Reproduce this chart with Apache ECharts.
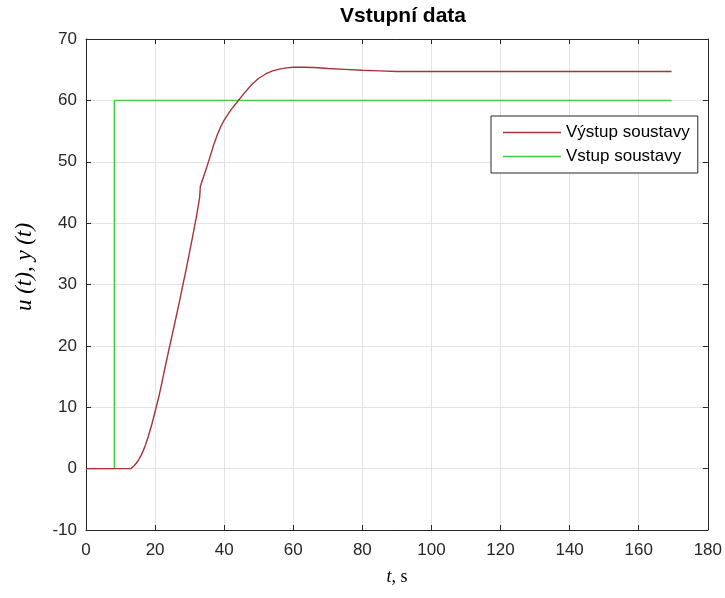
<!DOCTYPE html>
<html>
<head>
<meta charset="utf-8">
<script src="https://cdn.jsdelivr.net/npm/echarts@6/dist/echarts.min.js"></script>
<style>
    html, body { margin: 0; padding: 0; background: #fff; }
    #chart { width: 725px; height: 598px; }
</style>
</head>
<body>
<div id="chart"></div>
<script>
/* Vstupní data: odezva soustavy na skok */

// výstup soustavy y(t)
const tOut = [0, 13, 14, 15, 16, 17, 18, 19, 20, 21, 22, 23, 24, 25, 26, 27, 28, 29, 30, 31, 32, 32.9, 33.1, 34, 35, 36, 37, 38, 39, 40, 42, 44, 46, 48, 50, 52, 54, 56, 58, 60, 63, 66, 70, 75, 80, 85, 90, 100, 120, 140, 169.5];
const yOut = [0, 0, 0.5, 1.2, 2.2, 3.5, 5.2, 7.1, 9.3, 11.5, 14.1, 16.8, 19.4, 21.9, 24.5, 27.1, 29.8, 32.5, 35.3, 38.2, 41.2, 44.2, 46.0, 47.5, 49.2, 51.0, 52.8, 54.4, 55.7, 56.8, 58.5, 59.9, 61.3, 62.6, 63.6, 64.3, 64.8, 65.1, 65.3, 65.4, 65.4, 65.35, 65.2, 65.05, 64.9, 64.8, 64.7, 64.7, 64.7, 64.7, 64.7];

// vstup soustavy u(t)
const tIn = [0, 8.2, 8.2, 169.5];
const uIn = [0, 0, 60, 60];

const xTicks = { min: 0, max: 180, interval: 20 };
const yTicks = { min: -10, max: 70, interval: 10 };

function pairs(xs, ys) {
    let out = [];
    for (let i = 0; i < xs.length; i++) {
        out.push([xs[i], ys[i]]);
    }
    return out;
}

const axisColor = '#262626';
const gridColor = '#e3e3e3';
const serif = 'Liberation Serif, Times New Roman, serif';
const tickFont = { fontFamily: 'Liberation Sans, Arial, sans-serif', fontSize: 17, color: axisColor };
const frameLine = { show: true, onZero: false, lineStyle: { color: axisColor, width: 1 } };
const frameTick = { show: true, inside: true, length: 5, lineStyle: { color: axisColor } };

let grid = { left: 86, right: 15, top: 39, bottom: 68 };

let xAxis = [{
    type: 'value',
    min: xTicks.min, max: xTicks.max, interval: xTicks.interval,
    name: '{i|t}{n|, s}',
    nameLocation: 'middle',
    nameGap: 38,
    nameTextStyle: {
        rich: {
            i: { fontFamily: serif, fontStyle: 'italic', fontSize: 18, color: '#000' },
            n: { fontFamily: serif, fontSize: 18, color: '#000' }
        }
    },
    axisLine: frameLine,
    axisTick: frameTick,
    axisLabel: Object.assign({ margin: 12 }, tickFont),
    splitLine: { show: true, lineStyle: { color: gridColor, width: 1 } }
}, {
    type: 'value', position: 'top',
    min: xTicks.min, max: xTicks.max, interval: xTicks.interval,
    axisLine: frameLine,
    axisTick: frameTick,
    axisLabel: { show: false },
    splitLine: { show: false }
}];

let yAxis = [{
    type: 'value',
    min: yTicks.min, max: yTicks.max, interval: yTicks.interval,
    axisLine: frameLine,
    axisTick: frameTick,
    axisLabel: Object.assign({ margin: 9 }, tickFont),
    splitLine: { show: true, lineStyle: { color: gridColor, width: 1 } }
}, {
    type: 'value', position: 'right',
    min: yTicks.min, max: yTicks.max, interval: yTicks.interval,
    axisLine: frameLine,
    axisTick: frameTick,
    axisLabel: { show: false },
    splitLine: { show: false }
}];

let series = [{
    type: 'line',
    name: 'Výstup soustavy',
    data: pairs(tOut, yOut),
    xAxisIndex: 0, yAxisIndex: 0,
    symbol: 'none',
    lineStyle: { color: '#a8323a', width: 1.4 },
    itemStyle: { color: '#a8323a' },
    z: 3
}, {
    type: 'line',
    name: 'Vstup soustavy',
    data: pairs(tIn, uIn),
    xAxisIndex: 0, yAxisIndex: 0,
    symbol: 'none',
    lineStyle: { color: '#3ccf3c', width: 1.4 },
    itemStyle: { color: '#3ccf3c' },
    z: 2
}];

let legend = {
    orient: 'vertical',
    left: 491, top: 116,
    padding: [8, 8, 8, 12],
    itemGap: 7,
    icon: 'rect',
    itemWidth: 58, itemHeight: 1.5,
    borderColor: axisColor, borderWidth: 1,
    borderRadius: 0,
    backgroundColor: '#fff',
    textStyle: { fontFamily: 'Liberation Sans, Arial, sans-serif', fontSize: 17, lineHeight: 16, color: '#000' },
    data: ['Výstup soustavy', 'Vstup soustavy']
};

let graphic = [{
    type: 'text',
    x: 25, y: 267,
    rotation: Math.PI / 2,
    style: {
        text: 'u (t), y (t)',
        fontFamily: serif,
        fontStyle: 'italic',
        fontSize: 23,
        fill: '#000',
        align: 'center',
        verticalAlign: 'middle'
    }
}];

let option = {
    animation: false,
    backgroundColor: '#fff',
    title: {
        text: 'Vstupní data',
        left: 398, top: 1,
        textAlign: 'center',
        textStyle: { fontFamily: 'Liberation Sans, Arial, sans-serif', fontSize: 21, fontWeight: 'bold', color: '#000' }
    },
    grid: grid,
    xAxis: xAxis,
    yAxis: yAxis,
    legend: legend,
    series: series,
    graphic: graphic
};

let chart = echarts.init(document.getElementById('chart'), null, { renderer: 'canvas' });
chart.setOption(option);
</script>
</body>
</html>
